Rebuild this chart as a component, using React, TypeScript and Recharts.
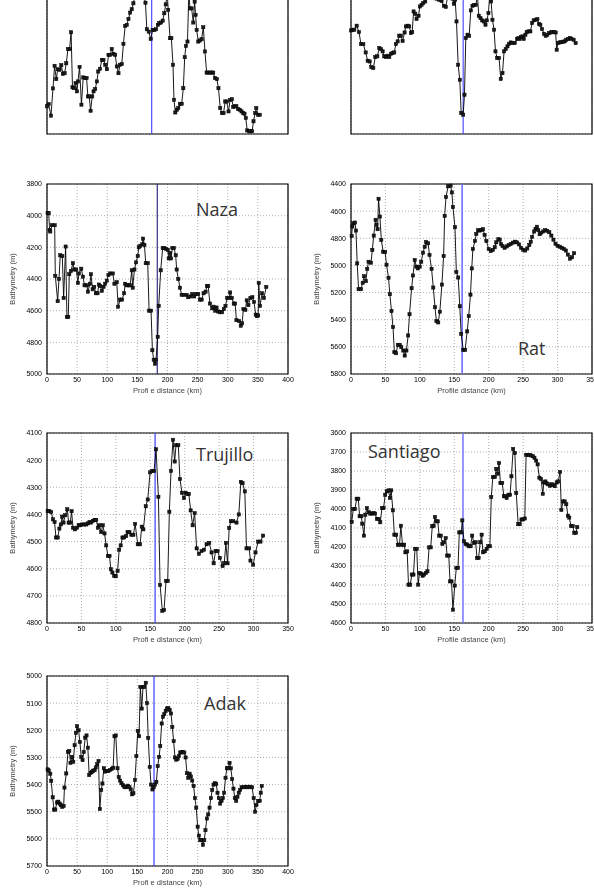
import React from 'react';
import {CartesianGrid, Line, LineChart, ReferenceArea, ReferenceLine, XAxis, YAxis} from 'recharts';

type Pt = [number, number];

// profile distance (km), bathymetry (m)
const profileTopLeft: Pt[] = [
    [0, 4969], [2.4, 4958], [5.8, 5013], [8.7, 4884], [11, 4777], [13.5, 4840], [15.5, 4793], [18.3, 4796],
    [20.8, 4774], [23, 4815], [25.6, 4812], [28, 4765], [30.4, 4698], [32.8, 4698], [35, 4618], [37, 4879],
    [39.6, 4883], [41.5, 4859], [43.5, 4898], [45, 4851], [47.3, 4782], [50, 4961], [52.6, 4832], [55, 4835],
    [57.5, 4835], [59.4, 4922], [61.3, 4922], [63.3, 4990], [65.7, 4922], [67.6, 4898], [70, 4887], [72.4, 4851],
    [74.4, 4804], [77, 4791], [79.7, 4749], [82, 4749], [84.5, 4772], [87, 4793], [89.3, 4725], [91.7, 4725],
    [94, 4697], [96.6, 4720], [99, 4725], [101.4, 4780], [103.8, 4812], [106, 4772], [108.6, 4769], [111, 4673],
    [113.5, 4588], [115.9, 4583], [118.3, 4555], [120.7, 4525], [123, 4509], [125.5, 4481], [128, 4440], [131, 4400],
    [134, 4380], [137, 4410], [140, 4445], [143, 4478], [145, 4604], [147.8, 4615], [150.6, 4650], [153.5, 4607],
    [156, 4607], [158.4, 4604], [161, 4583], [163, 4575], [165.6, 4572], [168, 4563], [170.4, 4528], [172.4, 4486],
    [174.8, 4440], [176, 4512], [178.7, 4646], [180.6, 4646], [183, 4772], [184.4, 4938], [186.4, 4998], [188.8, 4985],
    [190.7, 4977], [193, 4957], [195.6, 4957], [198, 4883], [200, 4736], [201.8, 4683], [204, 4662], [206, 4430],
    [207.6, 4505], [210, 4505], [212.5, 4572], [214.4, 4473], [215.8, 4536], [217.3, 4607], [219.7, 4662], [222, 4657],
    [224.5, 4651], [227, 4594], [229.4, 4709], [231.8, 4809], [234, 4809], [236.6, 4809], [239, 4809], [241.4, 4809],
    [244, 4835], [246.7, 4840], [249, 4883], [251.6, 4977], [254, 5001], [256.4, 5001], [258.8, 4946], [261, 4946],
    [263.6, 4993], [266, 4938], [268.5, 4935], [270.4, 4972], [272.8, 4969], [275, 4969], [277.6, 4982], [280, 4985],
    [282.5, 4993], [285, 5001], [286.8, 5004], [288.7, 5024], [290.7, 5083], [293.6, 5087], [295.5, 5087], [297.9, 5087],
    [299.9, 5040], [302.3, 5001], [304, 4977], [306.6, 5009], [309, 5009],
];

const profileTopRight: Pt[] = [
    [0, 4728], [2.4, 4722], [4.8, 4722], [8.2, 4688], [11.6, 4742], [14.5, 4843], [17.9, 4843], [21.3, 4913],
    [24.2, 4983], [27.1, 4989], [29.5, 5036], [32.4, 5045], [35.3, 4952], [38.2, 4946], [41.1, 4876], [43.5, 4885],
    [45.9, 4904], [48.3, 4946], [50.7, 4952], [53.2, 4941], [55.6, 4952], [58, 4924], [60.4, 4918], [62.8, 4913],
    [65.2, 4843], [67.7, 4820], [70.1, 4772], [72.5, 4772], [74.9, 4817], [77.8, 4745], [79.7, 4694], [82.2, 4688],
    [84.6, 4694], [87, 4750], [88.9, 4742], [90.9, 4568], [93.3, 4587], [95.2, 4632], [98.1, 4604], [100, 4526],
    [102.5, 4512], [104.9, 4498], [107.8, 4484], [110.2, 4440], [113.6, 4450], [117, 4420], [120.3, 4440], [124.2, 4460],
    [128, 4470], [131.5, 4480], [134.8, 4520], [137.7, 4530], [141, 4420], [144.5, 4380], [147.4, 4460], [149.3, 4503],
    [151.3, 4470], [153.2, 4652], [155.6, 5017], [158, 5143], [160, 5423], [162.9, 5437], [164.8, 5269], [166.7, 4792],
    [169.2, 4764], [171.6, 4773], [174, 4559], [176.4, 4520], [178.8, 4514], [181.2, 4512], [183.7, 4440], [185.6, 4604],
    [188, 4624], [190.4, 4643], [192.8, 4652], [195.3, 4680], [197.2, 4643], [199.6, 4582], [201.5, 4420], [203.5, 4484],
    [205.4, 4638], [207.8, 4722], [209.8, 4904], [212.2, 4960], [215, 4960], [217.5, 5137], [220, 5087], [222.3, 4904],
    [224.7, 4885], [227.2, 4862], [229.6, 4840], [232, 4829], [234.4, 4834], [237.8, 4834], [241.2, 4800], [243.1, 4792],
    [245, 4800], [247, 4784], [248.9, 4778], [250.8, 4800], [253.3, 4764], [255.2, 4742], [257.6, 4736], [260.5, 4736],
    [263, 4666], [265.3, 4643], [268.2, 4638], [270.7, 4632], [273, 4672], [275, 4680], [277.4, 4716], [280.3, 4756],
    [282.7, 4773], [285.2, 4764], [287.6, 4750], [290, 4745], [292.4, 4742], [294.8, 4742], [297.2, 4745], [298.7, 4890],
    [300.6, 4834], [303, 4829], [305.5, 4826], [307.9, 4823], [310.3, 4820], [312.7, 4806], [315.6, 4800], [318, 4792],
    [320, 4798], [323.3, 4806], [326.2, 4834],
];

const profileNaza: Pt[] = [
    [1, 3983], [2.8, 3985], [4.4, 4090], [5.5, 4100], [8.3, 4060], [12.7, 4060], [13.8, 4380], [17.7, 4540],
    [19.9, 4400], [22, 4250], [25.4, 4255], [27.6, 4520], [30.9, 4195], [33.1, 4640], [35.3, 4640], [37, 4370],
    [39.7, 4350], [43, 4300], [45.2, 4340], [48.5, 4340], [51.3, 4425], [53, 4365], [56.9, 4335], [59.6, 4385],
    [62.3, 4440], [66.2, 4440], [67.9, 4480], [71.3, 4430], [72.9, 4370], [75.7, 4465], [78.4, 4450], [81.1, 4490],
    [83.9, 4490], [86.1, 4435], [88.3, 4445], [91, 4475], [93.8, 4450], [96.5, 4430], [99.3, 4410], [102, 4375],
    [104.8, 4365], [109.2, 4365], [111.9, 4430], [115.8, 4420], [118, 4575], [121.4, 4530], [124.7, 4530], [128, 4490],
    [129.7, 4430], [132.4, 4440], [135.7, 4440], [137.9, 4440], [140.7, 4345], [142.3, 4455], [145.1, 4340], [147.8, 4295],
    [150.6, 4255], [152.3, 4200], [155, 4190], [158.3, 4180], [159.4, 4145], [161.7, 4185], [163.9, 4300], [167.2, 4300],
    [169.4, 4600], [172.7, 4600], [174.9, 4850], [177.1, 4910], [179.3, 4935], [180.9, 4910], [183.7, 4765], [185.4, 4570],
    [188.7, 4345], [192, 4205], [194.8, 4205], [197.5, 4210], [200.3, 4215], [202, 4270], [204.2, 4235], [205.9, 4270],
    [208.1, 4205], [210.8, 4205], [213.6, 4250], [215.2, 4340], [218, 4400], [220.7, 4455], [223.5, 4500], [227.3, 4500],
    [231.7, 4500], [234.5, 4515], [238.3, 4510], [241.1, 4495], [244.4, 4510], [247.2, 4495], [251, 4495], [253.8, 4530],
    [256.6, 4530], [259.9, 4490], [263.2, 4480], [265.4, 4445], [267.6, 4445], [270.4, 4555], [274.2, 4585], [276.4, 4575],
    [279.2, 4600], [281.4, 4580], [284.1, 4605], [286.9, 4610], [290.7, 4610], [293.5, 4590], [296.2, 4570], [299, 4520],
    [302.3, 4520], [304, 4485], [306.7, 4520], [310, 4555], [312.2, 4555], [314.4, 4660], [318.8, 4665], [321.6, 4695],
    [323.8, 4680], [326, 4590], [329.3, 4595], [331.5, 4535], [334.3, 4565], [337.6, 4520], [340.9, 4515], [343.6, 4545],
    [346.4, 4625], [348.6, 4635], [350.5, 4630], [351.4, 4425], [353.6, 4570], [357, 4490], [360, 4520], [364, 4450],
];

const profileRat: Pt[] = [
    [0.9, 4783], [2, 4713], [3.4, 4689], [5.8, 4684], [7.2, 4743], [9, 4985], [11, 5175], [14.5, 5175],
    [17, 5128], [19, 5079], [21.7, 5116], [23.6, 5025], [25.5, 4973], [29, 4980], [31, 4886], [33, 4780],
    [35.7, 4664], [37, 4701], [38.6, 4733], [40, 4509], [42, 4640], [44, 4812], [46.7, 4899], [49.6, 4901],
    [51.6, 4995], [54.5, 5091], [56.4, 5212], [58.8, 5336], [61, 5454], [63, 5639], [65.5, 5647], [68, 5585],
    [70.8, 5585], [73, 5602], [76, 5627], [78, 5664], [80.5, 5627], [83, 5516], [85, 5360], [88, 5168],
    [90, 5074], [92.5, 4960], [95, 5009], [97, 5022], [99.8, 5009], [102, 4973], [104.6, 4906], [107, 4862],
    [109, 4827], [112, 4837], [114, 4923], [117, 5025], [119.5, 5163], [122, 5308], [124, 5410], [126.7, 5420],
    [129, 5341], [132, 5141], [134.5, 4931], [136, 4635], [138, 4496], [141, 4417], [144.6, 4412], [146.5, 4462],
    [148, 4570], [151, 4718], [153, 5049], [155.7, 5089], [158, 5301], [160, 5504], [163, 5622], [165.8, 5622],
    [168.7, 5486], [171, 5373], [173.5, 5215], [175.4, 5022], [177, 4879], [180, 4820], [182, 4768], [184.6, 4741],
    [187, 4743], [189.4, 4738], [191.8, 4733], [194, 4775], [196.6, 4820], [200, 4879], [203, 4894], [206, 4886],
    [208.7, 4866], [211, 4830], [214, 4807], [216, 4810], [218, 4842], [220, 4857], [223, 4870], [226, 4860],
    [229, 4850], [232, 4842], [235, 4832], [238, 4825], [241, 4830], [244, 4845], [247, 4870], [250, 4885],
    [253, 4890], [256, 4875], [259, 4850], [261, 4825], [263, 4790], [266, 4750], [268, 4730], [270, 4715],
    [272, 4740], [274, 4770], [276, 4760], [279, 4750], [282, 4740], [285, 4745], [288, 4755], [291, 4780],
    [294, 4810], [297, 4840], [300, 4855], [303, 4862], [306, 4870], [309, 4878], [312, 4890], [315, 4920],
    [318, 4950], [321, 4940], [324, 4910],
];

const profileTrujillo: Pt[] = [
    [1, 4388], [3.4, 4388], [6, 4391], [8.7, 4418], [11, 4428], [13, 4485], [15.5, 4485], [18, 4452],
    [20, 4437], [22, 4408], [24, 4430], [26.5, 4403], [29.5, 4381], [31.4, 4430], [33.8, 4430], [35.7, 4388],
    [37.7, 4449], [40.6, 4455], [43.5, 4449], [46, 4440], [48, 4440], [51, 4437], [54, 4437], [57, 4437],
    [59.4, 4433], [61.8, 4428], [64, 4430], [66.6, 4424], [69, 4420], [71.5, 4420], [74, 4449], [76, 4440],
    [78.7, 4465], [81, 4440], [83.5, 4470], [86, 4514], [88.4, 4553], [90.8, 4553], [92.7, 4602], [95, 4614],
    [97.5, 4626], [100, 4628], [102.5, 4608], [104.8, 4530], [107, 4514], [109.6, 4485], [112, 4485], [115, 4480],
    [117, 4465], [119.7, 4465], [122.5, 4475], [125.5, 4475], [128, 4435], [131.8, 4510], [135.2, 4510], [137.6, 4445],
    [140, 4455], [143.4, 4370], [146.3, 4345], [149.7, 4245], [152.6, 4240], [155.5, 4240], [158.4, 4160], [161.8, 4335],
    [164.2, 4660], [167.5, 4755], [170, 4752], [172.9, 4645], [175.3, 4645], [177.7, 4390], [180.1, 4240], [183, 4125],
    [185.4, 4205], [187.3, 4145], [190.7, 4145], [193.1, 4270], [196, 4320], [199, 4340], [201.3, 4320], [203.8, 4325],
    [206, 4325], [208.6, 4385], [211.5, 4440], [214.4, 4395], [217.3, 4525], [220.7, 4545], [224.5, 4535], [228, 4530],
    [231.8, 4510], [235.6, 4505], [239, 4540], [242, 4580], [244.8, 4535], [247.7, 4535], [251, 4560], [255, 4590],
    [257.4, 4580], [259.8, 4505], [262.2, 4580], [264.6, 4450], [267, 4425], [270.4, 4425], [275.2, 4430], [278.6, 4400],
    [281.5, 4280], [284, 4285], [287.3, 4315], [289.7, 4525], [293.6, 4525], [295.5, 4570], [299.4, 4585], [302.8, 4540],
    [306.6, 4500], [310, 4500], [313.9, 4478],
];

const profileSantiago: Pt[] = [
    [1, 4068], [3.4, 4000], [5.8, 4000], [8.2, 3946], [10.6, 3946], [12.5, 4038], [15, 4038], [16.4, 4077],
    [18.8, 4140], [20.8, 4030], [23, 3995], [25.6, 4017], [28, 4024], [30.4, 4024], [32.8, 4021], [35, 4024],
    [37.6, 4052], [40, 4052], [42.5, 4070], [45, 3995], [47.3, 3995], [49.7, 3925], [52, 3907], [54.5, 3902],
    [56.5, 3942], [58.4, 3902], [60.8, 4007], [63, 4135], [65.6, 4135], [68, 4188], [70.5, 4188], [72.4, 4088],
    [74.8, 4188], [77.2, 4188], [79, 4228], [81.6, 4223], [83.5, 4398], [86, 4398], [88.3, 4345], [90.7, 4345],
    [93, 4210], [95.5, 4210], [97.5, 4398], [99.4, 4337], [101.8, 4340], [104, 4351], [106, 4345], [108.6, 4337],
    [111, 4328], [113.4, 4202], [115.8, 4202], [118, 4091], [120, 4088], [122, 4042], [124, 4065], [126, 4065],
    [128, 4140], [130.3, 4140], [132.7, 4184], [135, 4175], [137.5, 4153], [139.5, 4245], [142, 4245], [143.8, 4381],
    [146, 4381], [148, 4530], [150.6, 4403], [153, 4310], [155.4, 4310], [157.3, 4123], [160, 4123], [161.7, 4060],
    [164, 4170], [166.5, 4184], [169, 4188], [171, 4196], [173.7, 4196], [176, 4140], [178.6, 4179], [181, 4175],
    [183, 4258], [185.3, 4258], [187.7, 4175], [189.7, 4135], [191.6, 4228], [194.5, 4223], [197, 4210], [199.3, 4196],
    [201.7, 4196], [203.7, 3937], [206, 3832], [209, 3832], [211, 3789], [213.3, 3814], [215, 3758], [217, 3863],
    [219.6, 3863], [222, 3933], [224, 3933], [226, 3942], [228.8, 3925], [231, 3925], [233, 3828], [235.5, 3684],
    [238, 3705], [240, 3916], [242.8, 4080], [245, 4080], [247.6, 4055], [250, 4055], [252.4, 4050], [254.3, 3715],
    [256.8, 3715], [259, 3715], [261.6, 3718], [264, 3722], [266.4, 3730], [268.8, 3745], [271, 3765], [273.6, 3835],
    [276, 3842], [278.5, 3920], [280, 3860], [282.3, 3855], [284, 3865], [286, 3870], [289, 3878], [291.5, 3870],
    [294, 3875], [296, 3880], [298.7, 3860], [301, 3855], [303.6, 3805], [305.5, 4005], [308, 3960], [310.3, 3960],
    [312.7, 3975], [315, 4035], [317, 4045], [319.5, 4090], [322, 4090], [324.3, 4125], [326.7, 4125], [328.5, 4095],
];

const profileAdak: Pt[] = [
    [1, 5344], [2.8, 5348], [5.5, 5360], [7, 5386], [9.4, 5447], [11.6, 5492], [13.8, 5492], [16.5, 5466],
    [18.8, 5463], [21, 5470], [23, 5476], [25.4, 5482], [27.6, 5479], [29, 5411], [32, 5359], [34.8, 5280],
    [37, 5276], [39, 5320], [41.4, 5298], [43.6, 5316], [45.8, 5255], [48, 5210], [50, 5185], [52.4, 5200],
    [54.6, 5243], [56.8, 5298], [59, 5310], [61, 5280], [63.4, 5227], [65.6, 5219], [67.8, 5264], [70, 5365],
    [72.3, 5357], [74.5, 5353], [76.7, 5349], [79, 5347], [81, 5337], [83.3, 5325], [85.5, 5313], [87.7, 5490],
    [90, 5420], [92, 5396], [94.3, 5340], [96.6, 5352], [99.3, 5350], [102, 5350], [104.8, 5346], [107.6, 5342],
    [109.8, 5338], [112, 5222], [114.2, 5219], [117, 5340], [119, 5372], [121.4, 5385], [123.6, 5395], [125.8, 5402],
    [128, 5407], [130, 5410], [132.4, 5408], [134.6, 5404], [136.8, 5410], [139, 5418], [141.2, 5436], [143.4, 5432],
    [146, 5383], [148.4, 5295], [150.6, 5202], [152.8, 5222], [155, 5040], [157.2, 5120], [159.4, 5040], [161.6, 5040],
    [163.9, 5025], [166, 5100], [168, 5228], [170.5, 5335], [172.7, 5400], [175, 5418], [177, 5410], [179.3, 5400],
    [181.5, 5390], [183.7, 5332], [186, 5298], [188, 5258], [190.3, 5175], [192.5, 5150], [194.8, 5140], [197, 5128],
    [199, 5120], [201.4, 5118], [203.6, 5125], [205.8, 5138], [208, 5188], [210.2, 5240], [212.4, 5300], [214.6, 5308],
    [216.8, 5305], [219, 5295], [221.2, 5282], [223.4, 5280], [225.7, 5280], [227.9, 5282], [230, 5300], [232.3, 5358],
    [234.5, 5375], [236.7, 5360], [238.9, 5370], [241, 5385], [243.3, 5405], [245.5, 5450], [247.7, 5485], [250, 5555],
    [252, 5588], [254.3, 5605], [256.6, 5605], [258.8, 5622], [261, 5605], [263, 5568], [265.4, 5525], [267.6, 5510],
    [269.8, 5485], [272, 5450], [274.2, 5420], [276.4, 5400], [278.6, 5395], [280.8, 5398], [283, 5430], [285.2, 5450],
    [287.4, 5470], [289.7, 5460], [291.9, 5450], [294, 5430], [296.3, 5375], [298.5, 5340], [300.7, 5340], [303, 5320],
    [305.1, 5340], [307.3, 5380], [309.5, 5415], [311.7, 5450], [314, 5460], [316.1, 5445], [318.3, 5430], [320.5, 5420],
    [323, 5410], [326.6, 5410], [330, 5408], [333, 5410], [336.6, 5408], [340.4, 5410], [343, 5450], [345.4, 5500],
    [347.6, 5475], [350.3, 5460], [353, 5460], [354.8, 5430], [356.4, 5405],
];

const ticks0to400 = [0, 50, 100, 150, 200, 250, 300, 350, 400];
const ticks0to350 = [0, 50, 100, 150, 200, 250, 300, 350];

const PLOT_W = 241;
const PLOT_H = 190;
const M_TOP = 6;
const AXIS_W = 40;
const AXIS_H = 24;
const M_LEFT = 7;

const squareDot = (p: any) => (
    <rect
        key={`sq-${p.index}`}
        x={p.cx - 1.6}
        y={p.cy - 1.6}
        width={3.2}
        height={3.2}
        fill="#1a1a1a"
        stroke="#000"
        strokeWidth={0.5}
    />
);

type PanelProps = {
    profile: Pt[];
    plotLeft: number;
    plotTop: number;
    xTicks: number[];
    yTicks: number[];
    trench: number;
    trenchColor: string;
    trenchWidth: number;
    xLabel?: string;
    name?: string;
    nameLeft?: number;
    nameTop?: number;
    labelled: boolean;
};

// grayscale filter keeps the tiny labels from getting coloured sub-pixel fringes
const grey = {filter: 'grayscale(1)'};
const tickStyle = {fontSize: 7, fontFamily: 'Liberation Sans, Arial, sans-serif', fill: '#000', style: grey};
const labelStyle = {fontSize: 7.5, fontFamily: 'Liberation Sans, Arial, sans-serif', fill: '#444', ...grey};

const Panel = (props: PanelProps) => {
    const {profile, plotLeft, plotTop, xTicks, yTicks, trench, trenchColor, trenchWidth, xLabel, name, nameLeft, nameTop, labelled} = props;
    const data = profile.map(([d, z]) => ({d, z}));
    const xMax = xTicks[xTicks.length - 1];
    const yMin = yTicks[0];
    const yMax = yTicks[yTicks.length - 1];
    const width = M_LEFT + AXIS_W + PLOT_W + 10;
    const height = M_TOP + PLOT_H + AXIS_H;

    return (
        <>
            <div style={{position: 'absolute', left: plotLeft - M_LEFT - AXIS_W, top: plotTop - M_TOP}}>
                <LineChart width={width} height={height} data={data}
                           margin={{top: M_TOP, right: 10, bottom: 0, left: M_LEFT}}>
                    <CartesianGrid stroke="#9a9a9a" strokeDasharray="1 2" strokeWidth={0.8}/>
                    <XAxis
                        dataKey="d"
                        type="number"
                        domain={[0, xMax]}
                        ticks={xTicks}
                        interval={0}
                        height={AXIS_H}
                        tickLine={false}
                        tickSize={0}
                        tickMargin={3}
                        axisLine={false}
                        tick={labelled ? tickStyle : false}
                        label={labelled ? {value: xLabel, position: 'insideBottom', offset: 5, style: labelStyle} : undefined}
                    />
                    <YAxis
                        dataKey="z"
                        type="number"
                        reversed
                        domain={[yMin, yMax]}
                        ticks={yTicks}
                        interval={0}
                        width={AXIS_W}
                        tickLine={false}
                        tickSize={0}
                        tickMargin={5}
                        axisLine={false}
                        tick={labelled ? tickStyle : false}
                        label={labelled ? {
                            value: 'Bathymetry (m)',
                            angle: -90,
                            position: 'insideLeft',
                            offset: 5,
                            style: {...labelStyle, textAnchor: 'middle'},
                        } : undefined}
                    />
                    <ReferenceArea x1={0} x2={xMax} y1={yMin} y2={yMax} fill="none" stroke="#000" strokeWidth={1.2}/>
                    <ReferenceLine x={trench} stroke={trenchColor} strokeWidth={trenchWidth}/>
                    <Line
                        type="linear"
                        dataKey="z"
                        stroke="#000"
                        strokeWidth={0.9}
                        dot={squareDot}
                        isAnimationActive={false}
                    />
                </LineChart>
            </div>
            {name && (
                <div style={{
                    position: 'absolute',
                    left: nameLeft,
                    top: nameTop,
                    fontFamily: '"Open Sans", sans-serif',
                    fontSize: 18,
                    lineHeight: '18px',
                    color: '#333',
                    whiteSpace: 'nowrap',
                }}>{name}</div>
            )}
        </>
    );
};

const App = () => (
    <div style={{
        position: 'absolute', left: 0, top: 0, width: 594, height: 890,
        overflow: 'hidden', background: '#fff',
    }}>
        <Panel profile={profileTopLeft} plotLeft={47} plotTop={-56} xTicks={ticks0to350}
               yTicks={[4200, 4300, 4400, 4500, 4600, 4700, 4800, 4900, 5000, 5100]}
               trench={152} trenchColor="#4d4dff" trenchWidth={1.2} labelled={false}/>
        <Panel profile={profileTopRight} plotLeft={351} plotTop={-56} xTicks={ticks0to350}
               yTicks={[4000, 4200, 4400, 4600, 4800, 5000, 5200, 5400, 5600]}
               trench={162.9} trenchColor="#3f3fff" trenchWidth={1.1} labelled={false}/>
        <Panel profile={profileNaza} plotLeft={47} plotTop={184} xTicks={ticks0to400}
               yTicks={[3800, 4000, 4200, 4400, 4600, 4800, 5000]}
               trench={183} trenchColor="#1c1c7c" trenchWidth={1.1} labelled
               xLabel="Profi e distance (km)" name="Naza" nameLeft={196} nameTop={200}/>
        <Panel profile={profileRat} plotLeft={351} plotTop={184} xTicks={ticks0to350}
               yTicks={[4400, 4600, 4800, 5000, 5200, 5400, 5600, 5800]}
               trench={161.4} trenchColor="#6f6fff" trenchWidth={1.6} labelled
               xLabel="Profile distance (km)" name="Rat" nameLeft={518} nameTop={339}/>
        <Panel profile={profileTrujillo} plotLeft={47} plotTop={433} xTicks={ticks0to350}
               yTicks={[4100, 4200, 4300, 4400, 4500, 4600, 4700, 4800]}
               trench={157} trenchColor="#4a4aff" trenchWidth={1.3} labelled
               xLabel="Profi e distance (km)" name="Trujillo" nameLeft={196} nameTop={445}/>
        <Panel profile={profileSantiago} plotLeft={351} plotTop={433} xTicks={ticks0to350}
               yTicks={[3600, 3700, 3800, 3900, 4000, 4100, 4200, 4300, 4400, 4500, 4600]}
               trench={162.6} trenchColor="#7b7bff" trenchWidth={1.6} labelled
               xLabel="Profile distance (km)" name="Santiago" nameLeft={368} nameTop={442}/>
        <Panel profile={profileAdak} plotLeft={47} plotTop={676} xTicks={ticks0to400}
               yTicks={[5000, 5100, 5200, 5300, 5400, 5500, 5600, 5700]}
               trench={177.6} trenchColor="#3b3bff" trenchWidth={1.2} labelled
               xLabel="Profi e distance (km)" name="Adak" nameLeft={204} nameTop={694}/>
    </div>
);

export default App;
